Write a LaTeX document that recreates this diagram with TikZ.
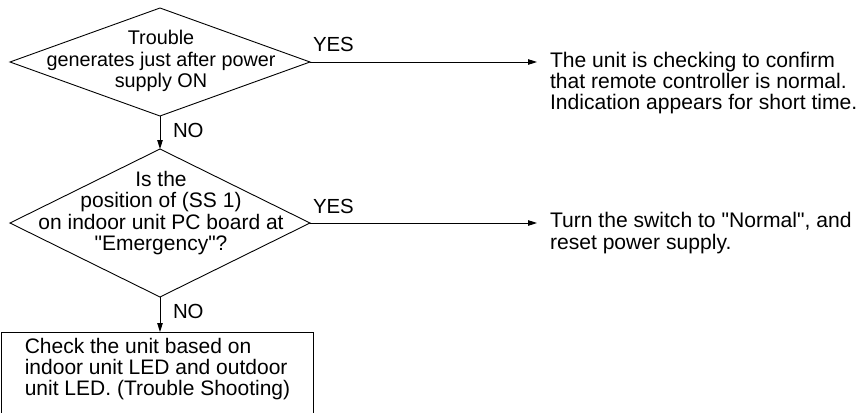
\documentclass[tikz,border=0pt]{standalone}
\usepackage{fontspec}
\setmainfont{Liberation Sans}
\newfontfamily\qfont{Liberation Sans}
\usetikzlibrary{shapes.geometric,arrows.meta}
\newcommand{\dq}{{\qfont"}}
\begin{document}
\begin{tikzpicture}[x=1pt,y=-1pt,
  every node/.style={inner sep=0pt,outer sep=0pt},
  txt/.style={font=\fontsize{20.4}{21.4}\selectfont},
  txs/.style={font=\fontsize{19.8}{21.4}\selectfont},
  txb/.style={font=\fontsize{21}{21.4}\selectfont},
  txr/.style={font=\fontsize{21.1}{21.2}\selectfont},
  dia/.style={draw,line width=0.9pt,diamond,minimum width=300pt},
  boxr/.style={draw,line width=0.9pt,rectangle},
  conn/.style={line width=0.9pt,-{Triangle[length=9pt,width=5.5pt]}}]
\useasboundingbox (0,0) rectangle (861,412);
% decisions
\node[dia,minimum height=108pt] (d1) at (160,62) {};
\node[txs,align=center] (t1) at (161,61) {Trouble\\generates just after power\\supply ON};
\node[dia,minimum height=148pt] (d2) at (160,223) {};
\node[txb,align=center] (t2) at (161,213) {Is the\\position of (SS 1)\\on indoor unit PC board at\\\dq Emergency\dq ?};
% final box
\node[boxr,minimum width=311.5pt,minimum height=82pt,anchor=north] (b) at (157.25,332) {};
\node[txb,align=left] (bt) at (157.5,369) {Check the unit based on\\indoor unit LED and outdoor\\unit LED. (Trouble Shooting)};
% right texts
\node[txr,align=left,anchor=west] (r1) at (550,83) {The unit is checking to confirm\\that remote controller is normal.\\Indication appears for short time.};
\node[txr,align=left,anchor=west] (r2) at (550,233) {Turn the switch to \dq Normal\dq , and\\reset power supply.};
% labels
\node[txt,anchor=base west] (y1) at (313,52) {YES};
\node[txt,anchor=base west] (y2) at (313,213) {YES};
\node[txt,anchor=base west] (n1) at (173,137) {NO};
\node[txt,anchor=base west] (n2) at (173,318) {NO};
% connectors
\draw[conn] (d1.south) -- (d2.north);
\draw[conn] (d2.south) -- (d2.south |- b.north);
\draw[conn,shorten >=13pt] (d1.east) -- (r1.west |- d1.east);
\draw[conn,shorten >=13pt] (d2.east) -- (r2.west |- d2.east);
\end{tikzpicture}
\end{document}
